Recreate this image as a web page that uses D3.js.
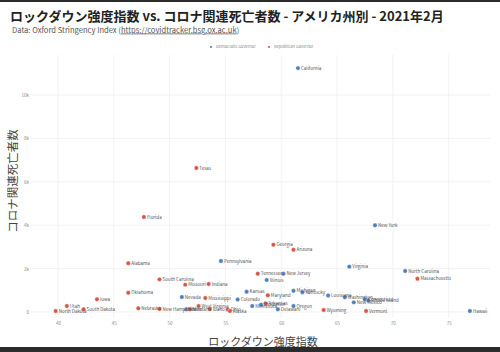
<!DOCTYPE html>
<html>
<head>
<meta charset="utf-8">
<script src="https://cdn.jsdelivr.net/npm/d3@7"></script>
<style>
  body { margin: 0; background: #fff; }
  text { font-family: "Noto Sans CJK JP", "Noto Sans", sans-serif; }
</style>
</head>
<body>
<div id="wrapper"></div>
<script>
// data: stringency index (x), deaths in Feb 2021 (y)
const demStates = ["California", "New York", "Pennsylvania", "Virginia", "North Carolina", "New Jersey", "Illinois", "Nevada", "Kansas", "Michigan", "Kentucky", "Louisiana", "Washington", "Connecticut", "Rhode Island", "New Mexico", "Colorado", "Minnesota", "Wisconsin", "Oregon", "Delaware", "Hawaii", "Maine"]
const demIndex = [61.5, 68.4, 54.6, 66.1, 71.1, 60.2, 58.7, 51.1, 56.9, 61.1, 61.9, 64.2, 65.7, 67.5, 67.8, 66.5, 56.1, 57.4, 58.2, 61.1, 59.7, 76.9, 51.5]
const demDeaths = [11240, 3995, 2350, 2090, 1890, 1765, 1475, 690, 935, 980, 910, 760, 680, 585, 530, 445, 575, 275, 335, 275, 125, 45, 125]

const repStates = ["Texas", "Florida", "Georgia", "Arizona", "Alabama", "Massachusetts", "South Carolina", "Tennessee", "Missouri", "Indiana", "Oklahoma", "Iowa", "Utah", "North Dakota", "South Dakota", "Nebraska", "New Hampshire", "Mississippi", "Maryland", "West Virginia", "Wyoming", "Vermont", "Montana", "Idaho", "Ohio", "Alaska", "Arkansas"]
const repIndex = [52.4, 47.7, 59.3, 61.1, 46.3, 72.2, 49.1, 57.9, 51.4, 53.5, 46.3, 43.5, 40.8, 39.8, 42.3, 47.2, 49.1, 53.2, 58.8, 52.6, 63.8, 67.6, 51.8, 53.6, 55.2, 55.4, 58.6]
const repDeaths = [6636, 4378, 3100, 2870, 2245, 1535, 1505, 1765, 1260, 1290, 890, 585, 275, 45, 125, 170, 140, 645, 770, 275, 90, 45, 125, 140, 115, 45, 400]

const xTicks = [40, 45, 50, 55, 60, 65, 70, 75]
const yTicks = [0, 2000, 4000, 6000, 8000, 10000]
const parties = ["Democratic Governor", "Republican Governor"]

const colors = { "Democratic Governor": "#4a7fc1", "Republican Governor": "#d4574a" }

let points = []
demStates.forEach((s, i) => points.push({ state: s, x: demIndex[i], y: demDeaths[i], party: parties[0] }))
repStates.forEach((s, i) => points.push({ state: s, x: repIndex[i], y: repDeaths[i], party: parties[1] }))

const width = 500
const height = 352
const plot = { left: 30, right: 490, top: 55, bottom: 318 }

const svg = d3.select("#wrapper")
    .append("svg")
    .attr("width", width)
    .attr("height", height)

svg.append("rect").attr("width", width).attr("height", height).attr("fill", "#fff")

// dark bands top and bottom of the screenshot
svg.append("rect").attr("x", 0).attr("y", 0).attr("width", width).attr("height", 2).attr("fill", "#2b2b2b")
svg.append("rect").attr("x", 0).attr("y", 347).attr("width", width).attr("height", 5).attr("fill", "#2b2b2b")

const x = d3.scaleLinear().domain([37.5, 78.7]).range([plot.left, plot.right])
const y = d3.scaleLinear().domain([-276, 11843]).range([plot.bottom, plot.top])

// gridlines
svg.append("g").selectAll("line")
    .data(xTicks)
    .join("line")
    .attr("x1", d => x(d)).attr("x2", d => x(d))
    .attr("y1", plot.top).attr("y2", plot.bottom)
    .attr("stroke", "#ededed").attr("stroke-width", 0.7)

svg.append("g").selectAll("line")
    .data(yTicks)
    .join("line")
    .attr("x1", plot.left).attr("x2", plot.right)
    .attr("y1", d => y(d)).attr("y2", d => y(d))
    .attr("stroke", "#ededed").attr("stroke-width", 0.7)

// axes
const xAxis = d3.axisBottom(x).tickValues(xTicks).tickSize(0).tickPadding(0)
const yAxis = d3.axisLeft(y).tickValues(yTicks).tickSize(0).tickPadding(0)
    .tickFormat(d => d === 0 ? "0" : (d / 1000) + "k")

const gx = svg.append("g").attr("transform", `translate(0, 322)`).call(xAxis)
const gy = svg.append("g").attr("transform", `translate(29, 0)`).call(yAxis)
;[gx, gy].forEach(g => {
    g.select(".domain").remove()
    g.selectAll("text")
        .attr("font-family", "Liberation Sans, sans-serif")
        .attr("font-size", "4.5px")
        .attr("fill", "#888")
})

// points
svg.append("g").selectAll("circle")
    .data(points)
    .join("circle")
    .attr("cx", d => x(d.x))
    .attr("cy", d => y(d.y))
    .attr("r", 2.2)
    .attr("fill", d => colors[d.party])
    .attr("stroke", "#fff")
    .attr("stroke-width", 0.4)

svg.append("g").selectAll("text")
    .data(points)
    .join("text")
    .attr("x", d => x(d.x) + 3)
    .attr("y", d => y(d.y) + 1.6)
    .attr("font-family", "Liberation Sans, sans-serif")
    .attr("font-size", "4.5px")
    .attr("fill", "#555")
    .text(d => d.state)

// legend
const legend = svg.append("g")
const legendX = [211, 269]
parties.forEach((p, i) => {
    legend.append("circle")
        .attr("cx", legendX[i]).attr("cy", 47).attr("r", 1.1)
        .attr("fill", colors[p])
    legend.append("text")
        .attr("x", legendX[i] + 5).attr("y", 48.4)
        .attr("font-family", "Liberation Sans, sans-serif")
        .attr("font-size", "4px")
        .attr("fill", "#888")
        .text(p)
})

// titles
svg.append("text")
    .attr("x", 10).attr("y", 21)
    .attr("font-size", "13px")
    .attr("font-weight", "bold")
    .attr("fill", "#222")
    .text("ロックダウン強度指数 vs. コロナ関連死亡者数 - アメリカ州別 - 2021年2月")

const sub = svg.append("text")
    .attr("x", 12).attr("y", 32.5)
    .attr("font-family", "Liberation Sans, sans-serif")
    .attr("font-size", "7.6px")
    .attr("fill", "#555")
sub.append("tspan").text("Data: Oxford Stringency Index (")
sub.append("tspan").attr("text-decoration", "underline").text("https://covidtracker.bsg.ox.ac.uk")
sub.append("tspan").text(")")

svg.append("text")
    .attr("x", 263).attr("y", 346)
    .attr("text-anchor", "middle")
    .attr("font-size", "11px")
    .attr("fill", "#444")
    .text("ロックダウン強度指数")

svg.append("text")
    .attr("transform", "translate(17, 181) rotate(-90)")
    .attr("text-anchor", "middle")
    .attr("font-size", "11.5px")
    .attr("fill", "#444")
    .text("コロナ関連死亡者数")
</script>
</body>
</html>
